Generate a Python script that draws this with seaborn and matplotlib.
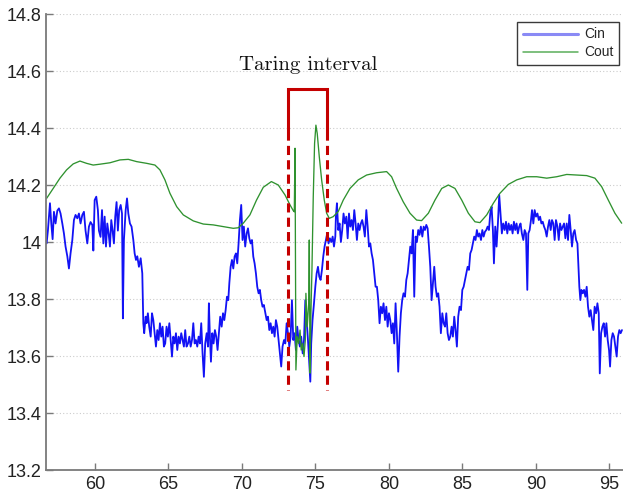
import matplotlib
matplotlib.use("Agg")
import matplotlib.pyplot as plt
import numpy as np
import pandas as pd
import seaborn as sns
from matplotlib.ticker import FuncFormatter

# ---- Cin (inlet), sampled time vs. value ----
cin_t_a = [56.71, 56.80, 56.94, 57.03, 57.12, 57.21, 57.32, 57.44, 57.55, 57.66,
           57.78, 57.89, 58.00, 58.12, 58.23, 58.34, 58.46, 58.57, 58.68, 58.80,
           58.91, 59.02, 59.14, 59.25, 59.36, 59.48, 59.59, 59.70, 59.82, 59.89,
           59.98, 60.09, 60.20, 60.27, 60.38, 60.48, 60.57, 60.66, 60.75, 60.84,
           60.93, 61.02, 61.11, 61.20, 61.29, 61.38, 61.47, 61.56, 61.65, 61.75,
           61.84, 61.90, 61.97, 62.09, 62.18, 62.27, 62.38, 62.49, 62.61, 62.70,
           62.79, 62.88, 62.99, 63.11, 63.22, 63.29]
cin_v_a = [13.995, 14.040, 14.136, 14.065, 14.010, 14.106, 14.065, 14.110, 14.118, 14.100,
           14.065, 14.030, 13.984, 13.950, 13.907, 13.960, 14.007, 14.077, 14.095, 14.083,
           14.100, 14.065, 14.095, 14.106, 14.040, 13.995, 14.054, 14.070, 14.060, 13.970,
           14.147, 14.159, 14.112, 14.040, 14.018, 14.112, 13.995, 14.089, 13.984, 14.065,
           14.030, 13.984, 14.077, 14.040, 13.995, 14.089, 14.140, 14.040, 14.112, 14.130,
           14.100, 13.732, 14.007, 14.112, 14.153, 14.100, 14.065, 14.054, 14.007, 13.960,
           13.937, 13.950, 13.913, 13.943, 13.890, 13.715]

cin_t_b = [63.35, 63.45, 63.51, 63.60, 63.69, 63.79, 63.88, 63.97, 64.06, 64.15,
           64.24, 64.33, 64.42, 64.51, 64.60, 64.69, 64.78, 64.87, 64.96, 65.06,
           65.15, 65.24, 65.33, 65.42, 65.51, 65.60, 65.69, 65.78, 65.87, 65.96,
           66.05, 66.14, 66.23, 66.33, 66.42, 66.51, 66.60, 66.69, 66.78, 66.87,
           66.96, 67.05, 67.14, 67.23, 67.32, 67.41, 67.50, 67.60, 67.69, 67.75,
           67.82, 67.89, 67.98, 68.07, 68.16, 68.25, 68.34, 68.43, 68.52, 68.62,
           68.71, 68.80, 68.89, 68.98, 69.07, 69.14, 69.23, 69.32, 69.41, 69.50,
           69.59, 69.68, 69.77]
cin_v_b = [13.680, 13.738, 13.715, 13.750, 13.703, 13.668, 13.750, 13.726, 13.680, 13.633,
           13.691, 13.656, 13.715, 13.668, 13.703, 13.633, 13.644, 13.703, 13.668, 13.715,
           13.656, 13.598, 13.668, 13.644, 13.680, 13.621, 13.668, 13.644, 13.680, 13.656,
           13.633, 13.691, 13.633, 13.644, 13.668, 13.633, 13.656, 13.715, 13.644, 13.656,
           13.633, 13.668, 13.644, 13.715, 13.609, 13.527, 13.644, 13.680, 13.633, 13.785,
           13.668, 13.580, 13.680, 13.644, 13.691, 13.668, 13.621, 13.680, 13.738, 13.703,
           13.750, 13.726, 13.761, 13.808, 13.796, 13.855, 13.913, 13.937, 13.907, 13.949,
           13.960, 13.925, 13.995]

cin_t_c = [69.86, 69.95, 70.04, 70.13, 70.22, 70.32, 70.41, 70.50, 70.59, 70.68,
           70.77, 70.86, 70.95, 71.04, 71.13, 71.22, 71.31, 71.40, 71.49, 71.59,
           71.68, 71.77, 71.86, 71.95, 72.04, 72.13, 72.22, 72.31, 72.40, 72.49,
           72.58, 72.67, 72.76, 72.86, 72.95, 73.04, 73.13, 73.22, 73.31, 73.40,
           73.49, 73.58, 73.67, 73.76, 73.85, 73.94, 74.03, 74.13, 74.22, 74.31,
           74.40, 74.49, 74.58, 74.65, 74.71, 74.80, 74.90, 74.99, 75.08, 75.17,
           75.26, 75.35, 75.44, 75.53, 75.62, 75.71, 75.80, 75.89, 75.98, 76.08,
           76.17, 76.26, 76.35]
cin_v_c = [14.077, 14.130, 14.007, 14.054, 13.984, 14.030, 14.048, 14.013, 13.995, 14.007,
           13.949, 13.925, 13.890, 13.843, 13.820, 13.832, 13.796, 13.773, 13.779, 13.750,
           13.726, 13.738, 13.691, 13.715, 13.680, 13.703, 13.668, 13.726, 13.703, 13.656,
           13.609, 13.563, 13.633, 13.656, 13.644, 13.715, 13.680, 13.633, 13.668, 13.796,
           13.656, 13.680, 13.621, 13.703, 13.656, 13.633, 13.668, 13.609, 13.656, 13.796,
           13.726, 13.656, 13.574, 13.510, 13.644, 13.726, 13.785, 13.843, 13.890, 13.913,
           13.878, 13.867, 13.902, 13.949, 13.984, 14.007, 14.030, 13.995, 14.013, 14.000,
           14.019, 13.984, 14.019]

cin_t_d = [76.39, 76.46, 76.55, 76.64, 76.73, 76.82, 76.91, 77.00, 77.10, 77.19,
           77.28, 77.37, 77.46, 77.55, 77.64, 77.73, 77.82, 77.91, 78.00, 78.09,
           78.18, 78.27, 78.36, 78.46, 78.55, 78.64, 78.73, 78.82, 78.91, 79.00,
           79.09, 79.18, 79.27, 79.36, 79.45, 79.54, 79.63, 79.73, 79.82, 79.91,
           80.00, 80.09, 80.18, 80.27, 80.36, 80.45, 80.54, 80.63, 80.72, 80.81,
           80.90, 80.99, 81.09, 81.18, 81.27, 81.36, 81.45, 81.54, 81.63, 81.72,
           81.81, 81.90, 81.99, 82.08, 82.17, 82.27, 82.36, 82.45, 82.54, 82.63,
           82.72, 82.81, 82.90]
cin_v_d = [14.089, 14.136, 14.042, 14.065, 14.000, 14.042, 14.100, 14.065, 14.089, 14.013,
           14.100, 14.054, 14.077, 14.042, 14.112, 14.065, 14.007, 14.065, 14.042, 14.065,
           14.077, 14.054, 14.019, 14.112, 14.054, 13.984, 13.995, 13.960, 13.937, 13.890,
           13.843, 13.843, 13.796, 13.715, 13.773, 13.750, 13.785, 13.726, 13.773, 13.703,
           13.750, 13.726, 13.680, 13.715, 13.644, 13.785, 13.680, 13.545, 13.668, 13.750,
           13.796, 13.820, 13.808, 13.867, 13.890, 13.937, 13.984, 13.960, 14.042, 13.808,
           14.019, 14.000, 14.042, 14.025, 14.054, 14.019, 14.054, 14.042, 14.060, 14.048,
           13.984, 13.913, 13.796]

cin_t_e = [83.08, 83.17, 83.26, 83.35, 83.44, 83.53, 83.63, 83.72, 83.81, 83.90,
           83.99, 84.08, 84.17, 84.26, 84.35, 84.44, 84.53, 84.62, 84.71, 84.80,
           84.90, 84.99, 85.08, 85.17, 85.26, 85.35, 85.44, 85.53, 85.62, 85.71,
           85.80, 85.89, 85.98, 86.07, 86.16, 86.26, 86.35, 86.44, 86.53, 86.62,
           86.71, 86.80, 86.89, 86.98, 87.07, 87.14, 87.23, 87.32, 87.41, 87.50,
           87.59, 87.68, 87.77, 87.87, 87.96, 88.05, 88.14, 88.23, 88.32, 88.41,
           88.50, 88.59, 88.68, 88.77, 88.86, 88.95, 89.04, 89.14, 89.23, 89.32,
           89.41]
cin_v_e = [13.913, 13.843, 13.808, 13.820, 13.773, 13.680, 13.750, 13.715, 13.703, 13.750,
           13.680, 13.656, 13.668, 13.703, 13.668, 13.738, 13.691, 13.633, 13.738, 13.773,
           13.761, 13.832, 13.843, 13.867, 13.890, 13.913, 13.902, 13.960, 13.972, 13.995,
           14.019, 14.007, 14.042, 14.019, 14.030, 14.007, 14.042, 14.019, 14.036, 14.042,
           14.054, 14.042, 14.100, 14.124, 14.042, 13.925, 14.054, 13.984, 14.065, 14.165,
           14.100, 14.030, 14.065, 14.042, 14.071, 14.030, 14.065, 14.042, 14.060, 14.030,
           14.071, 14.042, 14.065, 14.030, 14.054, 14.065, 14.030, 14.007, 14.042, 14.030,
           13.832]

cin_t_f = [89.48, 89.57, 89.66, 89.73, 89.82, 89.91, 90.00, 90.10, 90.19, 90.28,
           90.37, 90.46, 90.55, 90.64, 90.73, 90.82, 90.91, 91.00, 91.09, 91.18,
           91.27, 91.36, 91.46, 91.55, 91.64, 91.73, 91.82, 91.91, 92.00, 92.09,
           92.18, 92.27, 92.36, 92.45, 92.54, 92.63, 92.73, 92.82, 92.88, 92.95,
           93.02, 93.09, 93.18, 93.27, 93.36, 93.45, 93.54, 93.63, 93.72, 93.81,
           93.90, 93.99, 94.09, 94.18, 94.27, 94.34, 94.43, 94.52, 94.61, 94.70,
           94.79, 94.88, 94.97, 95.04, 95.13, 95.22, 95.31, 95.40, 95.49, 95.58,
           95.67, 95.76, 95.85]
cin_v_f = [14.030, 14.042, 14.077, 14.112, 14.065, 14.112, 14.089, 14.100, 14.077, 14.089,
           14.065, 14.071, 14.054, 14.042, 14.019, 14.054, 14.077, 14.042, 14.077, 14.065,
           14.007, 14.077, 14.054, 14.007, 14.065, 14.042, 14.054, 14.065, 14.013, 14.065,
           14.007, 14.095, 14.042, 13.984, 14.030, 14.042, 14.007, 13.995, 13.925, 13.843,
           13.796, 13.832, 13.820, 13.832, 13.808, 13.843, 13.773, 13.738, 13.761, 13.726,
           13.691, 13.773, 13.750, 13.785, 13.750, 13.539, 13.680, 13.703, 13.715, 13.668,
           13.715, 13.656, 13.621, 13.563, 13.656, 13.680, 13.668, 13.633, 13.598, 13.668,
           13.691, 13.680, 13.691]

# ---- Cout (outlet) ----
cout_t = [56.71, 57.16, 57.62, 58.07, 58.52, 58.98, 59.43, 59.88, 60.34, 61.02,
          61.70, 62.27, 62.84, 63.52, 64.08, 64.42, 64.76, 65.10, 65.56, 66.01,
          66.69, 67.37, 68.05, 68.73, 69.41, 69.75, 70.09, 70.54, 70.99, 71.45,
          72.00, 72.47, 72.93, 73.27, 73.49, 73.56, 73.61, 73.67, 73.76, 73.86,
          73.95, 74.03, 74.13, 74.22, 74.31, 74.35, 74.44, 74.54, 74.58, 74.63,
          74.69, 74.76, 74.85, 74.94, 75.03, 75.12, 75.26, 75.42, 75.60, 75.76,
          75.94, 76.21, 76.55, 76.89, 77.35, 77.91, 78.48, 79.16, 79.84, 80.18,
          80.52, 80.97, 81.43, 81.88, 82.22, 82.68, 83.13, 83.59, 84.04, 84.49,
          84.95, 85.40, 85.85, 86.19, 86.65, 87.10, 87.55, 88.12, 88.69, 89.37,
          90.05, 90.73, 91.41, 92.09, 92.77, 93.45, 94.01, 94.47, 94.92, 95.37,
          95.83]
cout_v = [14.153, 14.188, 14.224, 14.253, 14.274, 14.284, 14.276, 14.270, 14.273, 14.278,
          14.288, 14.290, 14.282, 14.276, 14.270, 14.253, 14.218, 14.171, 14.124, 14.095,
          14.074, 14.063, 14.060, 14.054, 14.048, 14.050, 14.066, 14.095, 14.147, 14.192,
          14.212, 14.200, 14.165, 14.130, 14.110, 14.106, 14.329, 13.551, 13.668, 13.644,
          13.691, 13.621, 13.644, 13.598, 13.656, 13.820, 13.703, 13.785, 14.007, 13.540,
          13.750, 13.900, 14.159, 14.346, 14.410, 14.381, 14.299, 14.218, 14.147, 14.101,
          14.083, 14.089, 14.107, 14.147, 14.188, 14.218, 14.235, 14.243, 14.247, 14.229,
          14.188, 14.141, 14.101, 14.077, 14.075, 14.101, 14.147, 14.188, 14.200, 14.188,
          14.147, 14.101, 14.071, 14.068, 14.095, 14.136, 14.171, 14.202, 14.218, 14.229,
          14.229, 14.224, 14.229, 14.237, 14.235, 14.233, 14.224, 14.194, 14.147, 14.101,
          14.066]

# ---- taring interval bracket ----
tare_start, tare_end = 73.13, 75.76
bracket_top, bracket_solid_low, bracket_dash_low = 14.537, 14.39, 13.48
tare_label = "Taring interval"
tare_label_pos = (74.49, 14.621)

x_ticks = [60, 65, 70, 75, 80, 85, 90, 95]
y_ticks = [13.2, 13.4, 13.6, 13.8, 14.0, 14.2, 14.4, 14.6, 14.8]

cin = pd.DataFrame({
    "t": cin_t_a + cin_t_b + cin_t_c + cin_t_d + cin_t_e + cin_t_f,
    "value": cin_v_a + cin_v_b + cin_v_c + cin_v_d + cin_v_e + cin_v_f,
})
cout = pd.DataFrame({"t": cout_t, "value": cout_v})

sns.set_theme(style="white")
plt.rcParams["font.family"] = ["Liberation Sans", "DejaVu Sans"]

fig = plt.figure(figsize=(6.23, 4.98), dpi=100)
ax = fig.add_axes([46 / 623, 28 / 498, 577 / 623, 456 / 498])

sns.lineplot(data=cin, x="t", y="value", ax=ax, color="#1212f5", lw=1.3,
             estimator=None, sort=False, label="Cin")
sns.lineplot(data=cout, x="t", y="value", ax=ax, color="#2f922f", lw=0.95,
             estimator=None, sort=False, label="Cout")

# bracket marking the taring interval
red = "#c40000"
ax.plot([tare_start, tare_start, tare_end, tare_end],
        [bracket_solid_low, bracket_top, bracket_top, bracket_solid_low],
        color=red, lw=2.2, solid_joinstyle="miter", zorder=5)
for xv in (tare_start, tare_end):
    ax.plot([xv, xv], [bracket_solid_low, bracket_dash_low], color=red, lw=2.2,
            dashes=(3.0, 1.7), zorder=5)
ax.text(*tare_label_pos, tare_label, ha="center", va="center",
        fontfamily="cmr10", fontsize=15, color="#111111")

ax.set_xlim(56.67, 95.92)
ax.set_ylim(13.2, 14.8)
ax.set_xticks(x_ticks)
ax.set_yticks(y_ticks)
ax.yaxis.set_major_formatter(FuncFormatter(lambda v, p: f"{v:g}"))
ax.set_xlabel("")
ax.set_ylabel("")

ax.yaxis.grid(True, linestyle=(0, (1, 2)), color="#cccccc", lw=0.8)
ax.xaxis.grid(False)
ax.set_axisbelow(True)

for side in ("top", "right"):
    ax.spines[side].set_visible(False)
for side in ("left", "bottom"):
    ax.spines[side].set_color("#7a7a7a")
    ax.spines[side].set_linewidth(1.3)

ax.tick_params(axis="both", direction="in", length=5, width=1, color="#7a7a7a",
               labelsize=13, labelcolor="#222222", left=True, bottom=True)
ax.tick_params(axis="y", pad=3)
ax.tick_params(axis="x", pad=4)

leg = ax.legend(loc="upper right", bbox_to_anchor=(0.993, 0.982), borderaxespad=0,
                fontsize=10, handlelength=4.0, handletextpad=0.45, labelspacing=0.28,
                borderpad=0.38, fancybox=False, framealpha=1, edgecolor="#3a3a3a")
leg.get_frame().set_linewidth(1.0)
leg_lines = leg.get_lines()
leg_lines[0].set_color("#8a8af5")
leg_lines[0].set_linewidth(2.2)
leg_lines[1].set_color("#5aad5a")
leg_lines[1].set_linewidth(1.1)

fig.savefig("out.png", dpi=100)
